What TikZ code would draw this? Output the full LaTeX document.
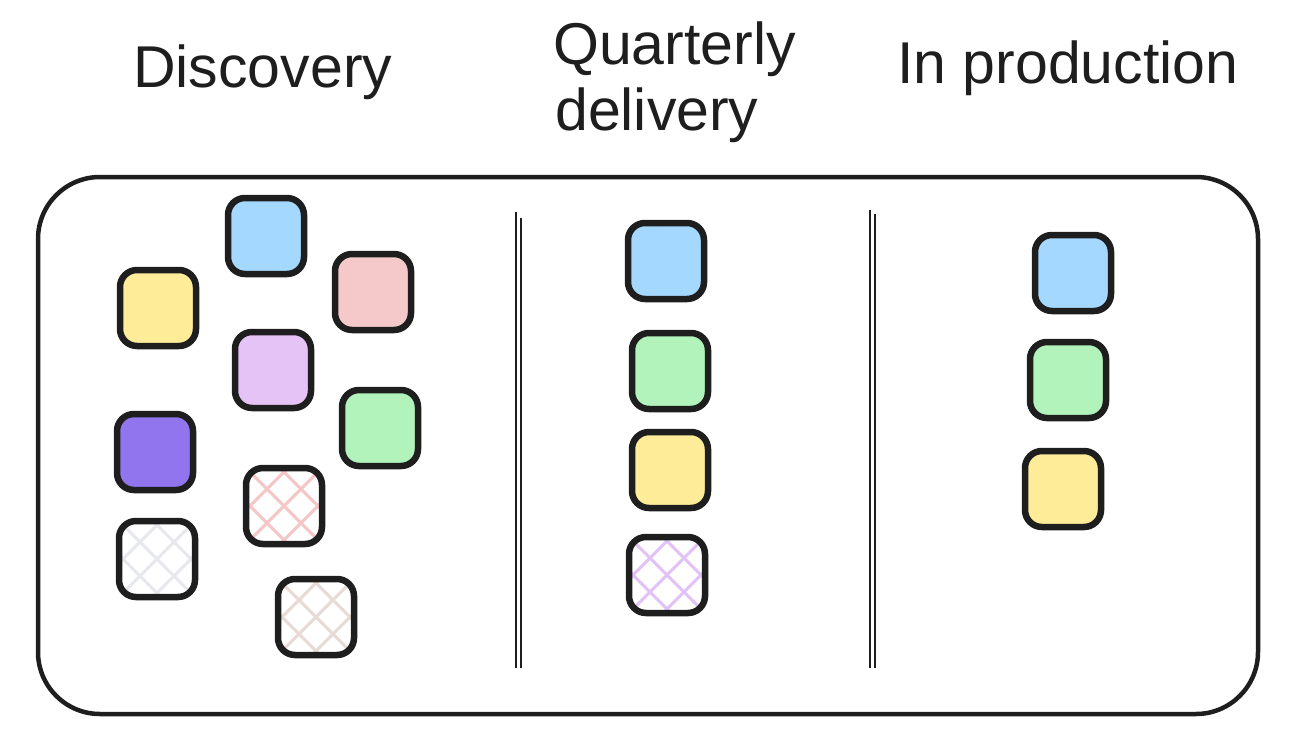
\documentclass[tikz,border=0pt]{standalone}
\usepackage{fontspec}
\setmainfont{Liberation Sans}
\definecolor{ink}{HTML}{1E1E1E}
\definecolor{cblue}{HTML}{A5D8FF}
\definecolor{cyellow}{HTML}{FFEC99}
\definecolor{cred}{HTML}{F5C9C9}
\definecolor{clav}{HTML}{E6C3F7}
\definecolor{cgreen}{HTML}{B2F2BB}
\definecolor{cviolet}{HTML}{9075EE}
\definecolor{hpink}{HTML}{F5C6C6}
\definecolor{hgrey}{HTML}{E6E8EC}
\definecolor{hbrown}{HTML}{E8DAD4}
\definecolor{hviolet}{HTML}{E2C2F5}
\begin{document}
\begin{tikzpicture}[x=1pt,y=-1pt,
  sq/.style={draw=ink, line width=6.5pt, rounded corners=17pt, minimum width=76pt, minimum height=76pt, inner sep=0pt},
  hatch/.style={sq, path picture={
     \foreach \d in {-136,-102,...,136}{
       \draw[#1, line width=3pt, shift={(path picture bounding box.center)}] ({(\d-60)*1pt},-60pt) -- ({(\d+60)*1pt},60pt);
       \draw[#1, line width=3pt, shift={(path picture bounding box.center)}] ({(\d-60)*1pt},60pt) -- ({(\d+60)*1pt},-60pt);
     }}},
  title/.style={font=\fontsize{59}{65}\selectfont, text=ink, inner sep=0pt, anchor=base west},
  divider/.style={draw=ink, line width=2.8pt}
]
\useasboundingbox (0,0) rectangle (1296,750);
% titles
\node[title] (t1) at (133,87) {Discovery};
\node[title] (t2a) at (553,64) {Quarterly};
\node[title] (t2b) at (555,130) {delivery};
\node[title] (t3) at (897,83) {In production};
% outer board
\draw[ink, line width=4.5pt, rounded corners=62pt] (38,177) rectangle (1258,714);
% dividers
\coordinate (d1a) at (516,212); \coordinate (d1b) at (516,668);
\coordinate (d2a) at (521,218); \coordinate (d2b) at (521,668);
\coordinate (d3a) at (870,210); \coordinate (d3b) at (870,668);
\coordinate (d4a) at (875,214); \coordinate (d4b) at (875,668);
\draw[divider] (d1a) -- (d1b);
\draw[divider] (d2a) -- (d2b);
\draw[divider] (d3a) -- (d3b);
\draw[divider] (d4a) -- (d4b);
% discovery
\node[sq, fill=cblue] (a1) at (266,236) {};
\node[sq, fill=cyellow] (a2) at (158,308) {};
\node[sq, fill=cred] (a3) at (373,292) {};
\node[sq, fill=clav] (a4) at (273,370) {};
\node[sq, fill=cgreen] (a5) at (380,428) {};
\node[sq, fill=cviolet] (a6) at (155,452) {};
\node[hatch=hpink] (a7) at (284,506) {};
\node[hatch=hgrey] (a8) at (157,559) {};
\node[hatch=hbrown] (a9) at (316,617) {};
% quarterly
\node[sq, fill=cblue] (b1) at (666,261) {};
\node[sq, fill=cgreen] (b2) at (670,371) {};
\node[sq, fill=cyellow] (b3) at (670,470) {};
\node[hatch=hviolet] (b4) at (667,575) {};
% production
\node[sq, fill=cblue] (c1) at (1073,273) {};
\node[sq, fill=cgreen] (c2) at (1068,380) {};
\node[sq, fill=cyellow] (c3) at (1063,489) {};
\end{tikzpicture}
\end{document}
